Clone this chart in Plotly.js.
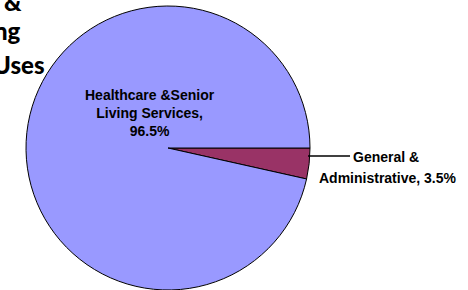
<!DOCTYPE html>
<html><head><meta charset="utf-8">
<script src="https://cdn.plot.ly/plotly-3.0.1.min.js"></script>
<style>html,body{margin:0;padding:0;background:#fff}#c{width:468px;height:290px}</style>
</head><body><div id="c"></div>
<script>
const categories = ["General & Administrative", "Healthcare &Senior Living Services"];
const values = [3.5, 96.5];
const colors = ["#993366", "#9999FF"];
const titleFragments = ["&", "ng", "Uses"];

const W = 468, H = 290;
const px = x => x / W, py = y => 1 - y / H;
const lab = "Liberation Sans, Arial, sans-serif";
const tfont = {family: "Lato, sans-serif", size: 24, color: "#000", weight: 900};

const trace = {
  type: "pie",
  labels: categories,
  values: values,
  sort: false,
  direction: "clockwise",
  rotation: 90,
  marker: {colors: colors, line: {color: "#000", width: 1}},
  textinfo: "none",
  hoverinfo: "label+percent",
  domain: {x: [px(26), px(310)], y: [py(290), py(6)]},
  showlegend: false
};

const annotations = [
  {text: titleFragments[0], x: px(24), y: py(1), xanchor: "right", yanchor: "middle"},
  {text: titleFragments[1], x: px(23), y: py(31), xanchor: "right", yanchor: "middle"},
  {text: titleFragments[2], x: px(47), y: py(64), xanchor: "right", yanchor: "middle"}
].map(a => Object.assign(a, {xref: "paper", yref: "paper", showarrow: false, font: tfont}));

annotations.push({
  text: "<b>" + "Healthcare &Senior<br>Living Services,<br>" + values[1] + "%</b>",
  x: px(150), y: py(113), xref: "paper", yref: "paper", showarrow: false,
  xanchor: "center", yanchor: "middle", align: "center",
  font: {family: lab, size: 14, color: "#000"}
});
annotations.push({
  text: "<b>General &amp;</b>",
  x: px(386), y: py(157), xref: "paper", yref: "paper", showarrow: false,
  xanchor: "center", yanchor: "middle",
  font: {family: lab, size: 14, color: "#000"}
});
annotations.push({
  text: "<b>Administrative, " + values[0] + "%</b>",
  x: px(387), y: py(178), xref: "paper", yref: "paper", showarrow: false,
  xanchor: "center", yanchor: "middle",
  font: {family: lab, size: 14, color: "#000"}
});

const layout = {
  width: W, height: H,
  margin: {l: 0, r: 0, t: 0, b: 0},
  paper_bgcolor: "#fff",
  annotations: annotations,
  shapes: [{type: "line", xref: "paper", yref: "paper", x0: px(308), x1: px(350), y0: py(156), y1: py(156), line: {color: "#000", width: 1.5}}]
};

Plotly.newPlot("c", [trace], layout, {displayModeBar: false, staticPlot: true});
</script></body></html>
